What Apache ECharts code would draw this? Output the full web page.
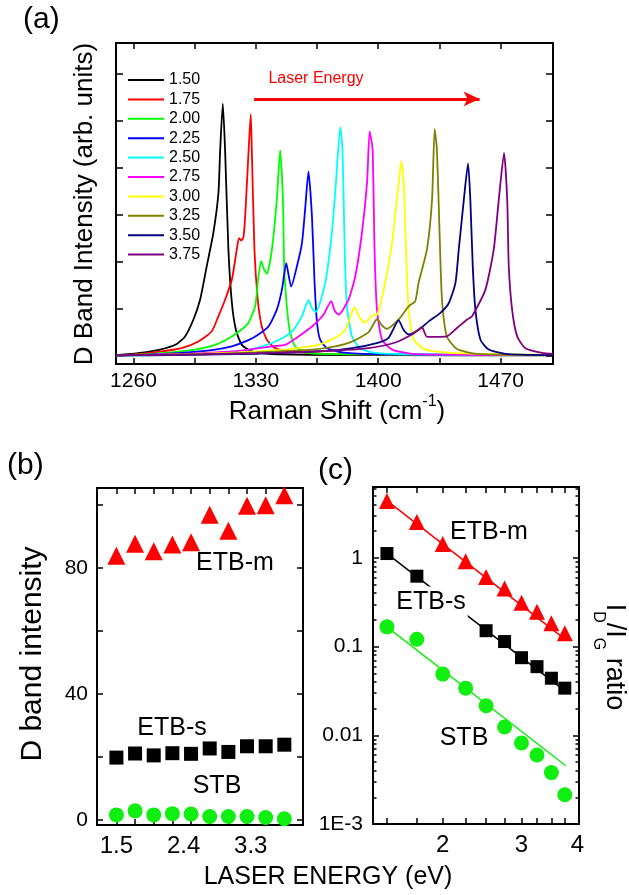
<!DOCTYPE html>
<html>
<head>
<meta charset="utf-8">
<script src="https://cdn.jsdelivr.net/npm/echarts@6/dist/echarts.min.js"></script>
<style>
  html, body { margin: 0; padding: 0; background: #fff; }
  #chart { width: 629px; height: 895px; }
</style>
</head>
<body>
<div id="chart"></div>
<script>
// ---- panel (a): D band spectra, one curve per laser energy (eV) ----
const energies = ['1.50', '1.75', '2.00', '2.25', '2.50', '2.75', '3.00', '3.25', '3.50', '3.75']
const curveColors = ['#000000', '#ff0000', '#00ff00', '#0000ff', '#00ffff', '#ff00ff', '#ffff00', '#808000', '#000080', '#800080']

const curve150 = [[1250, 0.01], [1263.7, 0.06], [1275.2, 0.13], [1284.8, 0.25], [1289.5, 0.41], [1294.3, 0.77], [1298.1, 1.19], [1301.9, 1.9], [1305.7, 2.61], [1308.6, 3.46], [1309.6, 4.38], [1311.1, 5.36], [1312.4, 4.38], [1314.3, 2.26], [1316.3, 1.12], [1318.6, 0.55], [1322, 0.23], [1327.7, 0.09], [1337.2, 0.04], [1360, 0.02], [1400, 0.01], [1500, 0.005]]
const curve175 = [[1250, 0.01], [1259, 0.02], [1274.2, 0.08], [1287.6, 0.16], [1297.1, 0.3], [1304.8, 0.52], [1308.6, 0.84], [1312.4, 1.19], [1316.3, 1.62], [1319.1, 2.26], [1320.4, 2.5], [1321.6, 2.45], [1322.9, 2.52], [1323.8, 2.9], [1324.9, 3.67], [1326.2, 4.6], [1327.1, 5.13], [1327.7, 4.38], [1329.2, 2.26], [1331.1, 1.19], [1333.4, 0.62], [1336.3, 0.34], [1341.1, 0.16], [1349.7, 0.09], [1370, 0.04], [1420, 0.02], [1500, 0.01]]
const curve200 = [[1250, 0.005], [1259, 0.015], [1278.1, 0.06], [1295.2, 0.13], [1306.7, 0.23], [1316.3, 0.41], [1322.9, 0.59], [1325.8, 0.7], [1329.6, 1.05], [1331.5, 1.69], [1333, 2.01], [1334.5, 1.85], [1336.3, 1.74], [1339.2, 2.26], [1342, 3.32], [1343.9, 4.37], [1345.5, 3.32], [1346.2, 1.9], [1347.4, 1.19], [1349.3, 0.55], [1352.5, 0.2], [1359.2, 0.06], [1380, 0.03], [1500, 0.01]]
const curve225 = [[1250, 0.005], [1264.7, 0.015], [1287.6, 0.06], [1306.7, 0.13], [1316.3, 0.2], [1325.8, 0.33], [1331.5, 0.45], [1337.2, 0.62], [1342, 0.98], [1344.9, 1.4], [1347.4, 1.97], [1348.8, 1.7], [1350.2, 1.47], [1353.5, 1.9], [1356.4, 2.4], [1358.2, 3.11], [1360.1, 3.92], [1362.1, 2.96], [1363.6, 1.55], [1365, 0.7], [1366.8, 0.34], [1370.7, 0.16], [1379.3, 0.07], [1400, 0.03], [1500, 0.01]]
const curve250 = [[1250, 0.003], [1278, 0.015], [1306.7, 0.06], [1325.8, 0.13], [1339.2, 0.27], [1346.8, 0.41], [1351.5, 0.55], [1356.4, 0.84], [1360.1, 1.18], [1362.3, 1.0], [1364.4, 0.93], [1369.7, 1.55], [1373.5, 2.61], [1375.8, 3.67], [1378.3, 4.86], [1379.6, 4.38], [1380.8, 2.26], [1382.1, 1.05], [1385, 0.41], [1389.7, 0.16], [1398.3, 0.06], [1420, 0.03], [1500, 0.01]]
const curve275 = [[1250, 0.005], [1290, 0.04], [1320, 0.1], [1339.2, 0.2], [1346.8, 0.23], [1354.4, 0.41], [1362.1, 0.62], [1368.7, 0.87], [1373.1, 1.16], [1375.2, 0.95], [1377.3, 0.87], [1383, 1.19], [1386.9, 1.69], [1390.7, 2.61], [1393.6, 3.67], [1395.1, 4.77], [1396.8, 4.38], [1397.9, 2.26], [1399.3, 0.98], [1402.2, 0.34], [1407.9, 0.13], [1419.3, 0.04], [1450, 0.02], [1500, 0.01]]
const curve300 = [[1250, 0.005], [1290, 0.03], [1320, 0.07], [1346.8, 0.13], [1354.4, 0.16], [1365.9, 0.23], [1375.4, 0.38], [1381.2, 0.55], [1386.5, 1.03], [1389.5, 0.8], [1392.2, 0.7], [1396.8, 0.86], [1399.3, 0.87], [1404, 1.55], [1407.9, 2.4], [1411.7, 3.67], [1413.2, 4.13], [1414.6, 3.67], [1415.9, 2.26], [1417.4, 0.98], [1420.3, 0.34], [1427, 0.13], [1442.3, 0.06], [1470, 0.03], [1500, 0.02]]
const curve325 = [[1250, 0.005], [1300, 0.03], [1330, 0.07], [1362.1, 0.13], [1375.4, 0.2], [1385, 0.3], [1394.5, 0.5], [1399.4, 0.78], [1402, 0.65], [1405, 0.57], [1411.7, 0.77], [1417.4, 1.05], [1421.2, 1.16], [1423.1, 1.55], [1427.9, 2.26], [1430.8, 3.32], [1432.3, 4.82], [1433.6, 4.38], [1435.1, 2.61], [1436.5, 1.19], [1439.3, 0.41], [1445.1, 0.14], [1456.5, 0.04], [1500, 0.01]]
const curve350 = [[1250, 0.005], [1290, 0.015], [1330, 0.04], [1365.9, 0.09], [1385, 0.16], [1400.2, 0.28], [1405.9, 0.38], [1411.7, 0.75], [1414.5, 0.55], [1417.4, 0.45], [1423.1, 0.55], [1428.9, 0.73], [1435.6, 0.91], [1440.4, 1.12], [1444.2, 1.55], [1446.1, 2.26], [1449, 3.32], [1451.4, 4.09], [1452.7, 3.32], [1454.1, 1.9], [1455.6, 0.98], [1458.5, 0.34], [1463.2, 0.13], [1472.8, 0.04], [1500, 0.01]]
const curve375 = [[1250, 0.005], [1260, 0.01], [1300, 0.03], [1340, 0.06], [1375.4, 0.11], [1394.5, 0.16], [1409.8, 0.28], [1419.3, 0.45], [1423.1, 0.55], [1425, 0.61], [1427.9, 0.4], [1432.7, 0.4], [1439.3, 0.41], [1445.1, 0.59], [1450.9, 0.77], [1453.7, 0.84], [1461.3, 1.4], [1466.1, 2.26], [1469, 3.32], [1472, 4.31], [1473.8, 3.32], [1474.7, 1.9], [1476.6, 0.98], [1479.5, 0.41], [1484.2, 0.16], [1493.8, 0.06], [1500, 0.04]]
const curves = [curve150, curve175, curve200, curve225, curve250, curve275, curve300, curve325, curve350, curve375]

const ramanTicks = [1260, 1295, 1330, 1365, 1400, 1435, 1470]
const ramanLabels = [1260, 1330, 1400, 1470]
const intensityTicks = [0, 1, 2, 3, 4, 5, 6]
const arrowStart = [1329, 5.46]
const arrowEnd = [1458, 5.46]

// ---- panels (b) and (c): laser energy in eV ----
const laserEnergy = [1.5, 1.75, 2.0, 2.25, 2.5, 2.75, 3.0, 3.25, 3.5, 3.75]

const bandEtbM = [83.9, 87.7, 85.3, 87.5, 88.2, 96.9, 91.8, 99.8, 99.9, 103.1]
const bandEtbS = [19.8, 21.1, 20.5, 21.2, 21.0, 22.7, 21.6, 23.4, 23.4, 23.9]
const bandStb = [1.6, 2.9, 1.6, 2.0, 1.9, 1.1, 1.1, 1.1, 0.8, 0.4]
const bandTicksX = [1.5, 1.75, 2.0, 2.25, 2.5, 2.75, 3.0, 3.25, 3.5, 3.75]
const bandLabelsX = [1.5, 2.4, 3.3]
const bandTicksY = [0, 20, 40, 60, 80, 100]
const bandLabelsY = [0, 40, 80]

const ratioEtbM = [4.38, 2.54, 1.43, 0.918, 0.611, 0.453, 0.312, 0.247, 0.183, 0.141]
const ratioEtbS = [1.12, 0.622, '-', '-', 0.151, 0.114, 0.075, 0.0594, 0.044, 0.034]
const ratioStb = [0.167, 0.121, 0.049, 0.034, 0.0215, 0.0124, 0.0082, 0.006, 0.0038, 0.00214]
const fitEtbM = [[1.48, 4.66], [3.77, 0.119]]
const fitEtbS = [[1.5, 1.12], [3.77, 0.031]]
const fitStb = [[1.5, 0.167], [3.77, 0.00454]]
const ratioLabelsX = [2, 3, 4]
const ratioTicksY = [0.001, 0.01, 0.1, 1]
const ratioMinorY = [0.002, 0.003, 0.004, 0.005, 0.006, 0.007, 0.008, 0.009, 0.02, 0.03, 0.04, 0.05, 0.06, 0.07, 0.08, 0.09, 0.2, 0.3, 0.4, 0.5, 0.6, 0.7, 0.8, 0.9, 2, 3, 4, 5, 6]

const FONT = '"Liberation Sans", Arial, sans-serif'
const pair = (xs, ys) => xs.map((x, i) => [x, ys[i]])

const frameLine = { show: true, onZero: false, lineStyle: { color: '#000', width: 2 } }
const tickIn = (values, len) => ({ show: true, inside: true, length: len || 6, lineStyle: { color: '#000', width: 1.5 }, customValues: values })
const noLabel = { show: false }
const labelOf = (values, size, margin, formatter) => ({
  show: true, customValues: values, color: '#000', fontSize: size, fontFamily: FONT, margin: margin,
  formatter: formatter || ((v) => String(v))
})

const text = (str, x, y, size, extra) => Object.assign({
  type: 'text', x: x, y: y, z: 100,
  style: { text: str, fill: '#000', fontSize: size, fontFamily: FONT, align: 'center', verticalAlign: 'middle' }
}, extra || {})

const chart = echarts.init(document.getElementById('chart'))

const option = {
  animation: false,
  backgroundColor: '#fff',
  grid: [
    { left: 116, top: 43, width: 437, height: 321 },
    { left: 97, top: 488, width: 206, height: 337 },
    { left: 373, top: 487, width: 206, height: 337 }
  ],
  legend: {
    data: energies,
    orient: 'vertical',
    left: 128,
    top: 72,
    padding: 0,
    icon: 'rect',
    itemWidth: 36,
    itemHeight: 2,
    itemGap: 3.4,
    selectedMode: false,
    textStyle: { fontSize: 16, color: '#000', fontFamily: FONT, lineHeight: 16 }
  },
  xAxis: [
    { type: 'value', gridIndex: 0, position: 'bottom', min: 1250, max: 1500, axisLine: frameLine, axisTick: tickIn(ramanTicks), axisLabel: labelOf(ramanLabels, 21, 7), splitLine: { show: false } },
    { type: 'value', gridIndex: 0, position: 'top', min: 1250, max: 1500, axisLine: frameLine, axisTick: tickIn(ramanTicks), axisLabel: noLabel, splitLine: { show: false } },
    { type: 'value', gridIndex: 1, position: 'bottom', min: 1.24, max: 4.0, axisLine: frameLine, axisTick: tickIn(bandTicksX), axisLabel: labelOf(bandLabelsX, 24, 9, (v) => v.toFixed(1)), splitLine: { show: false } },
    { type: 'value', gridIndex: 1, position: 'top', min: 1.24, max: 4.0, axisLine: frameLine, axisTick: tickIn(bandTicksX), axisLabel: noLabel, splitLine: { show: false } },
    { type: 'log', gridIndex: 2, position: 'bottom', min: 1.396, max: 4.035, axisLine: frameLine, axisTick: tickIn(laserEnergy), axisLabel: labelOf(ratioLabelsX, 24, 9, (v) => String(Math.round(v))), splitLine: { show: false } },
    { type: 'log', gridIndex: 2, position: 'top', min: 1.396, max: 4.035, axisLine: frameLine, axisTick: tickIn(laserEnergy), axisLabel: noLabel, splitLine: { show: false } }
  ],
  yAxis: [
    { type: 'value', gridIndex: 0, position: 'left', min: -0.177, max: 6.65, axisLine: frameLine, axisTick: tickIn(intensityTicks, 7), axisLabel: noLabel, splitLine: { show: false } },
    { type: 'value', gridIndex: 0, position: 'right', min: -0.177, max: 6.65, axisLine: frameLine, axisTick: tickIn(intensityTicks, 7), axisLabel: noLabel, splitLine: { show: false } },
    { type: 'value', gridIndex: 1, position: 'left', min: -1.6, max: 105.4, axisLine: frameLine, axisTick: tickIn(bandTicksY), axisLabel: labelOf(bandLabelsY, 21, 9), splitLine: { show: false } },
    { type: 'value', gridIndex: 1, position: 'right', min: -1.6, max: 105.4, axisLine: frameLine, axisTick: tickIn(bandTicksY), axisLabel: noLabel, splitLine: { show: false } },
    {
      type: 'log', gridIndex: 2, position: 'left', min: 0.001, max: 6.3, axisLine: frameLine, axisTick: tickIn(ratioTicksY),
      axisLabel: labelOf(ratioTicksY, 21, 10, (v) => {
        const e = Math.round(Math.log10(v))
        if (e <= -3) return '1E' + e
        return e >= 0 ? String(Math.pow(10, e)) : Math.pow(10, e).toFixed(-e)
      }),
      splitLine: { show: false }
    },
    { type: 'log', gridIndex: 2, position: 'right', min: 0.001, max: 6.3, axisLine: frameLine, axisTick: tickIn(ratioTicksY), axisLabel: noLabel, splitLine: { show: false } },
    { type: 'log', gridIndex: 2, position: 'left', min: 0.001, max: 6.3, axisLine: { show: false }, axisTick: tickIn(ratioMinorY, 3.5), axisLabel: noLabel, splitLine: { show: false } },
    { type: 'log', gridIndex: 2, position: 'right', min: 0.001, max: 6.3, axisLine: { show: false }, axisTick: tickIn(ratioMinorY, 3.5), axisLabel: noLabel, splitLine: { show: false } }
  ],
  series: [
    ...curves.map((data, i) => ({
      name: energies[i],
      type: 'line',
      xAxisIndex: 0,
      yAxisIndex: 0,
      data: data,
      symbol: 'none',
      showSymbol: false,
      smooth: 0.2,
      color: curveColors[i],
      lineStyle: { color: curveColors[i], width: 1.8 },
      z: 2 + i * 0.01,
      markLine: i === 0 ? {
        silent: true,
        symbol: ['none', 'arrow'],
        symbolSize: [11, 16],
        label: { show: false },
        lineStyle: { color: '#ff0000', width: 3, type: 'solid' },
        data: [[{ coord: arrowStart }, { coord: arrowEnd }]]
      } : undefined
    })),
    { name: 'b-etbm', type: 'scatter', xAxisIndex: 2, yAxisIndex: 2, data: pair(laserEnergy, bandEtbM), symbol: 'triangle', symbolSize: 18, itemStyle: { color: '#ff0000', opacity: 1 } },
    { name: 'b-etbs', type: 'scatter', xAxisIndex: 2, yAxisIndex: 2, data: pair(laserEnergy, bandEtbS), symbol: 'rect', symbolSize: 14, itemStyle: { color: '#000', opacity: 1 } },
    { name: 'b-stb', type: 'scatter', xAxisIndex: 2, yAxisIndex: 2, data: pair(laserEnergy, bandStb), symbol: 'circle', symbolSize: 15, itemStyle: { color: '#11ee11', opacity: 1 }, clip: false },
    { name: 'c-fit-m', type: 'line', xAxisIndex: 4, yAxisIndex: 4, data: fitEtbM, symbol: 'none', lineStyle: { color: '#ff0000', width: 1.5 } },
    { name: 'c-fit-s', type: 'line', xAxisIndex: 4, yAxisIndex: 4, data: fitEtbS, symbol: 'none', lineStyle: { color: '#000', width: 1.5 } },
    { name: 'c-fit-stb', type: 'line', xAxisIndex: 4, yAxisIndex: 4, data: fitStb, symbol: 'none', lineStyle: { color: '#11ee11', width: 1.5 } },
    { name: 'c-etbm', type: 'scatter', xAxisIndex: 4, yAxisIndex: 4, data: pair(laserEnergy, ratioEtbM), symbol: 'triangle', symbolSize: 16, itemStyle: { color: '#ff0000', opacity: 1 } },
    { name: 'c-etbs', type: 'scatter', xAxisIndex: 4, yAxisIndex: 4, data: pair(laserEnergy, ratioEtbS), symbol: 'rect', symbolSize: 13, itemStyle: { color: '#000', opacity: 1 } },
    { name: 'c-stb', type: 'scatter', xAxisIndex: 4, yAxisIndex: 4, data: pair(laserEnergy, ratioStb), symbol: 'circle', symbolSize: 15, itemStyle: { color: '#11ee11', opacity: 1 } }
  ],
  graphic: [
    text('(a)', 23, 20, 30, { style: { text: '(a)', fill: '#000', fontSize: 30, fontFamily: FONT, align: 'left', verticalAlign: 'middle' } }),
    text('(b)', 7, 466, 30, { style: { text: '(b)', fill: '#000', fontSize: 30, fontFamily: FONT, align: 'left', verticalAlign: 'middle' } }),
    text('(c)', 318, 471, 30, { style: { text: '(c)', fill: '#000', fontSize: 30, fontFamily: FONT, align: 'left', verticalAlign: 'middle' } }),
    text('D Band Intensity (arb. units)', 85, 204, 26, { rotation: Math.PI / 2 }),
    {
      type: 'text', x: 337, y: 412, z: 100,
      style: {
        text: '{m|Raman Shift (cm}{p|-1}{m|)}',
        align: 'center', verticalAlign: 'middle',
        rich: {
          m: { fontSize: 26, fontFamily: FONT, fill: '#000', lineHeight: 36 },
          p: { fontSize: 16, fontFamily: FONT, fill: '#000', lineHeight: 16, verticalAlign: 'top' }
        }
      }
    },
    text('Laser Energy', 316, 79, 16, { style: { text: 'Laser Energy', fill: '#ff0000', fontSize: 16, fontFamily: FONT, align: 'center', verticalAlign: 'middle' } }),
    text('D band intensity', 33, 654, 30, { rotation: Math.PI / 2 }),
    text('ETB-m', 235, 563, 25),
    text('ETB-s', 172, 728, 25),
    text('STB', 217, 786, 25),
    text('ETB-m', 489, 532, 25),
    text('ETB-s', 431, 602, 25, { style: { text: 'ETB-s', fill: '#000', fontSize: 25, fontFamily: FONT, align: 'center', verticalAlign: 'middle', backgroundColor: '#fff', padding: [3, 2] } }),
    text('STB', 464, 738, 25),
    text('LASER ENERGY (eV)', 328, 877, 25),
    {
      type: 'text', x: 609, y: 657, z: 100, rotation: -Math.PI / 2,
      style: {
        text: '{m|I}{s|D}{m|/I}{s|G}{m| ratio}',
        align: 'center', verticalAlign: 'middle',
        rich: {
          m: { fontSize: 27, fontFamily: FONT, fill: '#000', lineHeight: 38, verticalAlign: 'top' },
          s: { fontSize: 16, fontFamily: FONT, fill: '#000', verticalAlign: 'bottom' }
        }
      }
    }
  ]
}

chart.setOption(option)
</script>
</body>
</html>
